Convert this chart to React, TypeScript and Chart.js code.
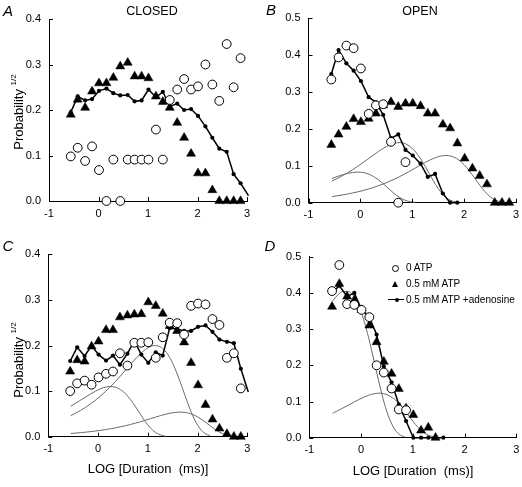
import React, { useEffect, useRef } from 'react';
import { Chart, registerables } from 'chart.js';

Chart.register(...registerables);

// ---- shared log-duration bins (x positions of data points) ----
const BINS = [-0.56, -0.42, -0.27, -0.13, 0.01, 0.16, 0.30, 0.44, 0.59, 0.73, 0.87, 1.01, 1.16, 1.30, 1.44, 1.59, 1.73, 1.87, 2.01, 2.16, 2.30, 2.44, 2.59, 2.73, 2.87];
// x grid of the fitted component curves
const FIT_X = [-0.55, -0.45, -0.35, -0.25, -0.15, -0.05, 0.05, 0.15, 0.25, 0.35, 0.45, 0.55, 0.65, 0.75, 0.85, 0.95, 1.05, 1.15, 1.25, 1.35, 1.45, 1.55, 1.65, 1.75, 1.85, 1.95, 2.05, 2.15, 2.25, 2.35, 2.45, 2.55, 2.65, 2.75];

const X_TICKS = [-1, 0, 1, 2, 3];
const LEGEND_LABELS = ['0 ATP', '0.5 mM ATP', '0.5 mM ATP +adenosine'];

// ---- Panel A : CLOSED ----
const A_ZERO_ATP = [0.098, 0.117, 0.088, 0.12, 0.068, 0, 0.091, 0, 0.091, 0.091, 0.091, 0.091, 0.157, 0.091, 0.222, 0.245, 0.268, 0.245, 0.252, 0.30, 0.256, 0.22, 0.345, 0.25, 0.314];
const A_ATP = [0.19, 0.223, 0.205, 0.241, 0.259, 0.259, 0.271, 0.296, 0.304, 0.274, 0.274, 0.27, 0.23, 0.218, 0.205, 0.172, 0.139, 0.104, 0.061, 0.061, 0.024, 0, 0, 0, 0];
const A_ATP_ADO = [0.195, 0.23, 0.221, 0.224, 0.242, 0.247, 0.237, 0.232, 0.233, 0.219, 0.221, 0.245, 0.228, 0.24, 0.208, 0.214, 0.2, 0.202, 0.187, 0.164, 0.139, 0.115, 0.108, 0.059, 0.039];
const A_ADO_TAIL = [3.03, 0.012];

// ---- Panel B : OPEN ----
const B_ZERO_ATP = [0.334, 0.394, 0.426, 0.419, 0.364, 0.241, 0.264, 0.267, 0.165, 0, 0.11];
const B_ATP = [0.157, 0.185, 0.206, 0.227, 0.219, 0.228, 0.242, 0.264, 0.273, 0.26, 0.269, 0.269, 0.262, 0.242, 0.242, 0.212, 0.202, 0.161, 0.12, 0.093, 0.073, 0.05, 0, 0, 0];
const B_ATP_ADO = [0.349, 0.414, 0.378, 0.358, 0.33, 0.286, 0.272, 0.238, 0.175, 0.185, 0.143, 0.128, 0.106, 0.07, 0.078, 0.025, 0, 0];
const B_FIT1 = [0.0657, 0.0708, 0.0754, 0.0793, 0.082, 0.083, 0.0818, 0.078, 0.0713, 0.0618, 0.05, 0.0373, 0.025, 0.0147, 0.0073, 0.0029, 0.0009];
const B_FIT2 = [0.0587, 0.0654, 0.0728, 0.0808, 0.0895, 0.0988, 0.1086, 0.1188, 0.129, 0.139, 0.1481, 0.1557, 0.161, 0.163, 0.1607, 0.1532, 0.14, 0.1213, 0.0983, 0.0732, 0.0491, 0.0289, 0.0143, 0.0057, 0.0018];
const B_FIT3 = [0.0167, 0.0187, 0.021, 0.0235, 0.0264, 0.0295, 0.033, 0.0369, 0.0413, 0.0461, 0.0514, 0.0572, 0.0635, 0.0703, 0.0776, 0.0853, 0.0933, 0.1013, 0.1091, 0.1163, 0.1223, 0.1264, 0.128, 0.1262, 0.1203, 0.11, 0.0952, 0.0772, 0.0575, 0.0385, 0.0227, 0.0113, 0.0045, 0.0014];

// ---- Panel C ----
const C_ZERO_ATP = [0.1, 0.117, 0.123, 0.114, 0.13, 0.138, 0.143, 0.183, 0.156, 0.206, 0.206, 0.207, 0.173, 0.218, 0.25, 0.249, 0.224, 0.287, 0.292, 0.29, 0.258, 0.245, 0.173, 0.183, 0.106];
const C_ATP = [0.143, 0.168, 0.165, 0.198, 0.209, 0.234, 0.234, 0.262, 0.266, 0.268, 0.269, 0.295, 0.287, 0.27, 0.243, 0.232, 0.207, 0.162, 0.113, 0.07, 0.038, 0.018, 0.006, 0, 0];
const C_ATP_ADO = [0.166, 0.196, 0.177, 0.2, 0.18, 0.167, 0.178, 0.158, 0.182, 0.21, 0.18, 0.162, 0.185, 0.178, 0.238, 0.236, 0.232, 0.232, 0.241, 0.244, 0.23, 0.213, 0.208, 0.205, 0.149];
const C_ADO_TAIL = [3.02, 0.098];
const C_FIT1 = [0.0667, 0.0733, 0.0802, 0.0871, 0.0938, 0.0999, 0.1051, 0.1087, 0.11, 0.1085, 0.1034, 0.0945, 0.0818, 0.0663, 0.0494, 0.0331, 0.0195, 0.0097, 0.0039, 0.0012];
const C_FIT2 = [0.0461, 0.0516, 0.0577, 0.0645, 0.072, 0.0803, 0.0893, 0.0992, 0.1099, 0.1213, 0.1333, 0.1458, 0.1583, 0.1705, 0.1817, 0.1911, 0.1976, 0.2, 0.1972, 0.188, 0.1718, 0.1488, 0.1206, 0.0898, 0.0602, 0.0354, 0.0176, 0.007, 0.0022];
const C_FIT3 = [0.0071, 0.0079, 0.0089, 0.0099, 0.0111, 0.0125, 0.0139, 0.0156, 0.0174, 0.0194, 0.0217, 0.0241, 0.0268, 0.0297, 0.0327, 0.036, 0.0394, 0.0427, 0.046, 0.0491, 0.0516, 0.0533, 0.054, 0.0532, 0.0508, 0.0464, 0.0402, 0.0326, 0.0242, 0.0163, 0.0096, 0.0048, 0.0019, 0.0006];

// ---- Panel D ----
const D_ZERO_ATP = [0.405, 0.477, 0.369, 0.367, 0.353, 0.333, 0.2, 0.18, 0.136, 0.078, 0.076];
const D_ATP = [0.362, 0.425, 0.39, 0.38, 0.353, 0.31, 0.264, 0.21, 0.177, 0.135, 0.081, 0.063, 0.02, 0.028, 0];
const D_ATP_ADO = [0.4, 0.42, 0.39, 0.4, 0.354, 0.333, 0.285, 0.197, 0.153, 0.092, 0.046, 0, 0, 0, 0, 0];
const D_FIT1 = [0.378, 0.394, 0.404, 0.404, 0.392, 0.366, 0.326, 0.274, 0.213, 0.151, 0.095, 0.052, 0.023, 0.008, 0.002];
const D_FIT2 = [0.0676, 0.0746, 0.082, 0.0896, 0.0974, 0.1049, 0.1117, 0.1175, 0.1215, 0.123, 0.1213, 0.1156, 0.1057, 0.0915, 0.0742, 0.0552, 0.037, 0.0218, 0.0108, 0.0043, 0.0014];

const FONT = 'Arial, "Liberation Sans", Helvetica, sans-serif';

const pts = (xs: number[], ys: number[]) => ys.map((y, i) => ({ x: xs[i], y }));

const circles = (ys: number[]) => ({
  label: LEGEND_LABELS[0],
  data: pts(BINS, ys),
  showLine: false,
  pointStyle: 'circle',
  pointRadius: 4.4,
  pointBackgroundColor: '#ffffff',
  pointBorderColor: '#000000',
  pointBorderWidth: 1,
  order: 1,
  clip: false,
});

const triangles = (ys: number[]) => ({
  label: LEGEND_LABELS[1],
  data: pts(BINS, ys),
  showLine: false,
  pointStyle: 'triangle',
  pointRadius: 5.2,
  pointBackgroundColor: '#000000',
  pointBorderColor: '#000000',
  pointBorderWidth: 0.5,
  order: 2,
  clip: false,
});

const adenosine = (ys: number[], tail?: number[]) => {
  const data = pts(BINS, ys);
  if (tail) data.push({ x: tail[0], y: tail[1] });
  const n = ys.length;
  return {
    label: LEGEND_LABELS[2],
    data,
    showLine: true,
    borderColor: '#000000',
    borderWidth: 1.5,
    tension: 0,
    pointStyle: 'circle',
    pointRadius: (c: any) => (c.dataIndex >= n ? 0 : 2.1),
    pointBackgroundColor: '#000000',
    pointBorderColor: '#000000',
    pointBorderWidth: 0,
    order: 3,
    clip: false,
  };
};

const fit = (ys: number[]) => ({
  label: 'fit',
  data: pts(FIT_X, ys),
  showLine: true,
  borderColor: '#6a6a6a',
  borderWidth: 1,
  pointRadius: 0,
  cubicInterpolationMode: 'monotone',
  order: 4,
  clip: false,
});

const inwardTicks = {
  id: 'inwardTicks',
  afterDraw(chart: any) {
    const { ctx, chartArea } = chart;
    const x = chart.scales.x;
    const y = chart.scales.y;
    ctx.save();
    ctx.strokeStyle = '#000';
    ctx.lineWidth = 1;
    ctx.beginPath();
    x.ticks.forEach((t: any) => {
      const px = Math.round(x.getPixelForValue(t.value)) + 0.5;
      ctx.moveTo(px, chartArea.bottom);
      ctx.lineTo(px, chartArea.bottom - 4);
    });
    y.ticks.forEach((t: any) => {
      const py = Math.round(y.getPixelForValue(t.value)) + 0.5;
      ctx.moveTo(chartArea.left, py);
      ctx.lineTo(chartArea.left + 4, py);
    });
    ctx.stroke();
    ctx.restore();
  },
};

type Spec = {
  left: number; top: number; width: number; height: number;
  padTop: number; padRight: number; yWidth: number; xHeight: number;
  yMax: number; datasets: any[];
};

function Panel({ spec }: { spec: Spec }) {
  const ref = useRef<HTMLCanvasElement>(null);
  useEffect(() => {
    const tickFont = { family: FONT, size: 11 };
    const chart = new Chart(ref.current as HTMLCanvasElement, {
      type: 'scatter',
      data: { datasets: spec.datasets },
      plugins: [inwardTicks],
      options: {
        animation: false,
        responsive: true,
        maintainAspectRatio: false,
        layout: { padding: { top: spec.padTop, right: spec.padRight, left: 0, bottom: 0 } },
        plugins: { legend: { display: false }, tooltip: { enabled: false }, title: { display: false } },
        scales: {
          x: {
            type: 'linear',
            min: -1,
            max: 3,
            afterBuildTicks: (s: any) => { s.ticks = X_TICKS.map((v) => ({ value: v })); },
            ticks: { font: tickFont, color: '#000', padding: 6, maxRotation: 0, callback: (v: any) => String(v) },
            grid: { display: false, drawTicks: false },
            border: { display: true, color: '#000', width: 1 },
            afterFit: (s: any) => { s.height = spec.xHeight; s.paddingLeft = 0; s.paddingRight = 0; },
          },
          y: {
            type: 'linear',
            min: 0,
            max: spec.yMax,
            ticks: { stepSize: 0.1, font: tickFont, color: '#000', padding: 8, callback: (v: any) => Number(v).toFixed(1) },
            grid: { display: false, drawTicks: false },
            border: { display: true, color: '#000', width: 1 },
            afterFit: (s: any) => { s.width = spec.yWidth; s.paddingTop = 0; s.paddingBottom = 0; },
          },
        },
      } as any,
    });
    return () => chart.destroy();
  }, []);
  return (
    <div style={{ position: 'absolute', left: spec.left, top: spec.top, width: spec.width, height: spec.height }}>
      <canvas ref={ref} />
    </div>
  );
}

const PANELS: Spec[] = [
  {
    left: 0, top: 0, width: 261, height: 230, padTop: 19, padRight: 14, yWidth: 49, xHeight: 29, yMax: 0.4,
    datasets: [circles(A_ZERO_ATP), triangles(A_ATP), adenosine(A_ATP_ADO, A_ADO_TAIL)],
  },
  {
    left: 261, top: 0, width: 261, height: 230, padTop: 18.3, padRight: 6, yWidth: 47.5, xHeight: 27.3, yMax: 0.5,
    datasets: [circles(B_ZERO_ATP), triangles(B_ATP), adenosine(B_ATP_ADO), fit(B_FIT1), fit(B_FIT2), fit(B_FIT3)],
  },
  {
    left: 0, top: 230, width: 261, height: 240, padTop: 24.3, padRight: 13.7, yWidth: 48.3, xHeight: 33.3, yMax: 0.4,
    datasets: [circles(C_ZERO_ATP), triangles(C_ATP), adenosine(C_ATP_ADO, C_ADO_TAIL), fit(C_FIT1), fit(C_FIT2), fit(C_FIT3)],
  },
  {
    left: 261, top: 230, width: 261, height: 240, padTop: 26.7, padRight: 3.7, yWidth: 48.3, xHeight: 32.3, yMax: 0.5,
    datasets: [circles(D_ZERO_ATP), triangles(D_ATP), adenosine(D_ATP_ADO), fit(D_FIT1), fit(D_FIT2)],
  },
];

const Txt = ({ x, y, size, italic, children }: any) => (
  <div
    style={{
      position: 'absolute', left: x, top: y, transform: 'translate(-50%, -50%)',
      font: `${italic ? 'italic ' : ''}${size}px ${FONT}`, color: '#000', whiteSpace: 'pre', lineHeight: 1,
    }}
  >
    {children}
  </div>
);

const YTitle = ({ x, y }: any) => (
  <div
    style={{
      position: 'absolute', left: x, top: y, transform: 'translate(-50%, -50%) rotate(-90deg)',
      font: `13px ${FONT}`, color: '#000', whiteSpace: 'nowrap', lineHeight: 1,
    }}
  >
    Probability <sup style={{ fontSize: 8, verticalAlign: 'top', position: 'relative', top: -2 }}>1/2</sup>
  </div>
);

function Legend() {
  const rowText = { position: 'absolute' as const, left: 406, font: `10px ${FONT}`, color: '#000', whiteSpace: 'nowrap' as const, lineHeight: 1, transform: 'translateY(-50%)' };
  return (
    <>
      <div style={{ position: 'absolute', left: 392, top: 265, width: 5, height: 5, border: '1px solid #000', borderRadius: '50%', background: '#fff' }} />
      <div style={{ ...rowText, top: 268 }}>{LEGEND_LABELS[0]}</div>
      <div style={{ position: 'absolute', left: 391.5, top: 281, width: 0, height: 0, borderLeft: '3.5px solid transparent', borderRight: '3.5px solid transparent', borderBottom: '6px solid #000' }} />
      <div style={{ ...rowText, top: 284 }}>{LEGEND_LABELS[1]}</div>
      <div style={{ position: 'absolute', left: 388, top: 299, width: 16, height: 1.3, background: '#000' }} />
      <div style={{ position: 'absolute', left: 394.5, top: 297.7, width: 4, height: 4, borderRadius: '50%', background: '#000' }} />
      <div style={{ ...rowText, top: 300 }}>{LEGEND_LABELS[2]}</div>
    </>
  );
}

export default function App() {
  return (
    <div style={{ position: 'absolute', left: 0, top: 0, width: 522, height: 487, background: '#fff', overflow: 'hidden' }}>
      {PANELS.map((p, i) => <Panel key={i} spec={p} />)}
      <Txt x={8} y={10} size={15} italic>A</Txt>
      <Txt x={152} y={11} size={12.5}>CLOSED</Txt>
      <Txt x={271} y={9} size={15} italic>B</Txt>
      <Txt x={420} y={11} size={12.5}>OPEN</Txt>
      <Txt x={8} y={245} size={15} italic>C</Txt>
      <Txt x={270} y={245} size={15} italic>D</Txt>
      <YTitle x={18} y={112} />
      <YTitle x={18} y={360} />
      <Txt x={148} y={468} size={13}>{'LOG [Duration  (ms)]'}</Txt>
      <Txt x={413} y={470} size={13}>{'LOG [Duration  (ms)]'}</Txt>
      <Legend />
    </div>
  );
}
